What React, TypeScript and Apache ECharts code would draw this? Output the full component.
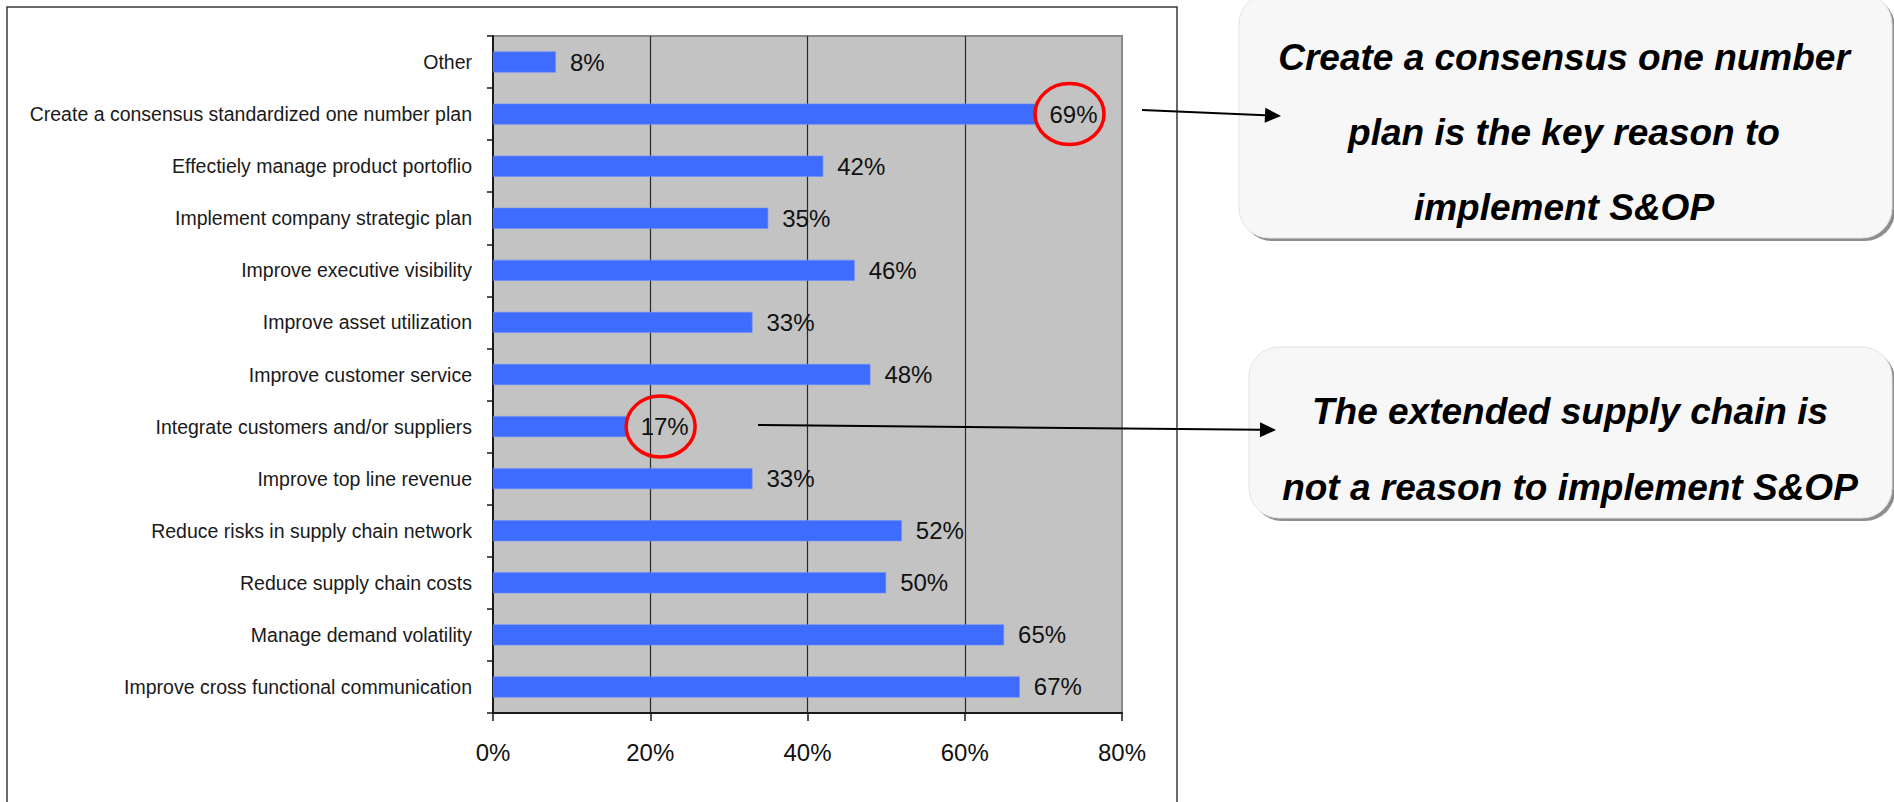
import React, { useEffect, useRef } from "react";
import * as echarts from "echarts";

const categories = [
  "Other",
  "Create a consensus standardized one number plan",
  "Effectiely manage product portoflio",
  "Implement company strategic plan",
  "Improve executive visibility",
  "Improve asset utilization",
  "Improve customer service",
  "Integrate customers and/or suppliers",
  "Improve top line revenue",
  "Reduce risks in supply chain network",
  "Reduce supply chain costs",
  "Manage demand volatility",
  "Improve cross functional communication",
];
const values = [8, 69, 42, 35, 46, 33, 48, 17, 33, 52, 50, 65, 67];
const xMin = 0;
const xMax = 80;
const xInterval = 20;
const callout1 = ["Create a consensus one number", "plan is the key reason to", "implement S&OP"];
const callout2 = ["The extended supply chain is", "not a reason to implement S&OP"];
const highlighted = [1, 7];

const FONT = '"Liberation Sans", Arial, "Helvetica Neue", sans-serif';

export default function App() {
  const ref = useRef<HTMLDivElement | null>(null);
  useEffect(() => {
    if (!ref.current) return;
    const chart = echarts.init(ref.current, undefined, { renderer: "svg" });
    chart.setOption({
      animation: false,
      backgroundColor: "#ffffff",
      grid: {
        left: 493,
        top: 36,
        width: 629,
        height: 677,
        show: true,
        backgroundColor: "#c3c3c3",
        borderColor: "#8a8a8a",
        borderWidth: 2,
        containLabel: false,
      },
      xAxis: {
        type: "value",
        min: xMin,
        max: xMax,
        interval: xInterval,
        axisLine: { show: true, lineStyle: { color: "#1a1a1a", width: 2 } },
        axisTick: { show: true, length: 8, lineStyle: { color: "#1a1a1a", width: 1.5 } },
        axisLabel: {
          fontSize: 24,
          fontFamily: FONT,
          color: "#111",
          margin: 27,
          formatter: (v: number) => `${v}%`,
        },
        splitLine: {
          show: true,
          showMinLine: false,
          showMaxLine: false,
          lineStyle: { color: "#2a2a2a", width: 1.2 },
        },
      },
      yAxis: {
        type: "category",
        inverse: true,
        data: categories,
        axisLine: { show: true, lineStyle: { color: "#1a1a1a", width: 2 } },
        axisTick: { show: true, length: 6, lineStyle: { color: "#1a1a1a", width: 1.5 } },
        axisLabel: {
          fontSize: 19.5,
          fontFamily: FONT,
          color: "#1a1a1a",
          margin: 21,
        },
        splitLine: { show: false },
      },
      series: [
        {
          type: "bar",
          data: values,
          barWidth: 21,
          itemStyle: { color: "#3d6cff", borderColor: "#6b8cff", borderWidth: 0.6 },
          label: {
            show: true,
            position: "right",
            distance: 14,
            fontSize: 24,
            fontFamily: FONT,
            color: "#111",
            formatter: (p: any) => `${p.value}%`,
          },
        },
      ],
    });

    const ellipses = highlighted.map((idx, i) => {
      const pt = chart.convertToPixel({ xAxisIndex: 0, yAxisIndex: 0 }, [values[idx], idx]) as number[];
      return {
        type: "ellipse",
        id: "ell" + i,
        z: 100,
        shape: { cx: pt[0] + 34, cy: pt[1], rx: 34.5, ry: 30.5 },
        style: { fill: "none", stroke: "#ff0000", lineWidth: 3.5 },
      };
    });

    const boxText = (lines: string[], cx: number, ys: number[], prefix: string) =>
      lines.map((t, i) => ({
        type: "text",
        id: prefix + i,
        z: 60,
        x: cx,
        y: ys[i],
        style: {
          text: t,
          fontSize: 37,
          fontWeight: "bold",
          fontStyle: "italic",
          fontFamily: FONT,
          fill: "#000",
          align: "center",
          verticalAlign: "middle",
        },
      }));

    const arrow = (x1: number, y1: number, x2: number, y2: number, id: string) => {
      const ang = Math.atan2(y2 - y1, x2 - x1);
      const len = 16;
      const hw = 7.5;
      const bx = x2 - len * Math.cos(ang);
      const by = y2 - len * Math.sin(ang);
      const nx = -Math.sin(ang);
      const ny = Math.cos(ang);
      return [
        {
          type: "line",
          id: id + "l",
          z: 70,
          shape: { x1, y1, x2: bx, y2: by },
          style: { stroke: "#000", lineWidth: 2 },
        },
        {
          type: "polygon",
          id: id + "h",
          z: 70,
          shape: {
            points: [
              [bx + nx * hw, by + ny * hw],
              [x2, y2],
              [bx - nx * hw, by - ny * hw],
            ],
          },
          style: { fill: "#000" },
        },
      ];
    };

    chart.setOption({
      graphic: [
        {
          type: "rect",
          id: "frame",
          z: -1,
          shape: { x: 7, y: 7, width: 1170, height: 810 },
          style: { fill: "none", stroke: "#3a3a3a", lineWidth: 1.5 },
        },
        {
          type: "rect",
          id: "b1s",
          z: 50,
          shape: { x: 1242, y: -3, width: 653, height: 244, r: 30 },
          style: { fill: "#8e8e8e" },
        },
        {
          type: "rect",
          id: "b1",
          z: 51,
          shape: { x: 1239, y: -6, width: 653, height: 244, r: 30 },
          style: { fill: "#f7f7f7", stroke: "#e4e4e4", lineWidth: 1 },
        },
        {
          type: "rect",
          id: "b2s",
          z: 50,
          shape: { x: 1252, y: 350, width: 643, height: 171, r: 30 },
          style: { fill: "#8e8e8e" },
        },
        {
          type: "rect",
          id: "b2",
          z: 51,
          shape: { x: 1249, y: 347, width: 643, height: 171, r: 30 },
          style: { fill: "#f7f7f7", stroke: "#e4e4e4", lineWidth: 1 },
        },
        ...boxText(callout1, 1564, [57, 132, 207], "t1_"),
        ...boxText(callout2, 1570, [411, 487], "t2_"),
        ...arrow(1142, 110, 1281, 116, "a1"),
        ...arrow(758, 425, 1276, 430, "a2"),
        ...ellipses,
      ],
    });

    return () => chart.dispose();
  }, []);

  return (
    <div
      ref={ref}
      style={{ position: "absolute", left: 0, top: 0, width: 1894, height: 802 }}
    />
  );
}
